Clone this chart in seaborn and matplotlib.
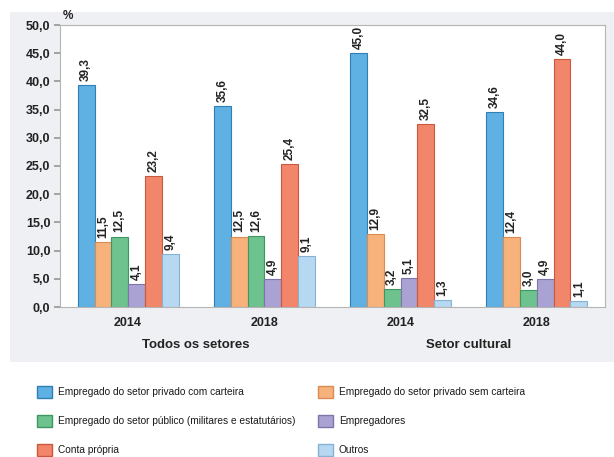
import matplotlib
matplotlib.use("Agg")
import matplotlib.pyplot as plt
import seaborn as sns
import pandas as pd
from matplotlib.patches import Rectangle, Patch

categories = [
    "Empregado do setor privado com carteira",
    "Empregado do setor privado sem carteira",
    "Empregado do setor público (militares e estatutários)",
    "Empregadores",
    "Conta própria",
    "Outros",
]
groups = ["Todos 2014", "Todos 2018", "Cultural 2014", "Cultural 2018"]
year_labels = ["2014", "2018", "2014", "2018"]
sector_labels = ["Todos os setores", "Setor cultural"]

values_todos_2014 = [39.3, 11.5, 12.5, 4.1, 23.2, 9.4]
values_todos_2018 = [35.6, 12.5, 12.6, 4.9, 25.4, 9.1]
values_cult_2014 = [45.0, 12.9, 3.2, 5.1, 32.5, 1.3]
values_cult_2018 = [34.6, 12.4, 3.0, 4.9, 44.0, 1.1]

colors = ["#5fb1e3", "#f7b27c", "#6dc28e", "#aaa2d3", "#f2866a", "#b6d8f1"]
edges = ["#2f7fb5", "#d98b55", "#3f9662", "#7e76aa", "#c9583d", "#86b2d3"]

rows = []
for g, vals in zip(groups, [values_todos_2014, values_todos_2018, values_cult_2014, values_cult_2018]):
    for c, v in zip(categories, vals):
        rows.append({"grupo": g, "categoria": c, "valor": v})
df = pd.DataFrame(rows)

sns.set_theme(style="white")
plt.rcParams["font.family"] = ["Liberation Sans", "DejaVu Sans"]

fig = plt.figure(figsize=(6.14, 4.57), dpi=100)
W, H = 614, 457
bg = Rectangle((10 / W, 1 - 362 / H), 604 / W, 350 / H,
               transform=fig.transFigure, facecolor="#eef0f3",
               edgecolor="none", zorder=-10)
fig.patches.append(bg)

ax = fig.add_axes([60 / W, 1 - 307 / H, 545 / W, 282 / H])
ax.set_zorder(1)
ax.set_facecolor("white")

sns.barplot(data=df, x="grupo", y="valor", hue="categoria", order=groups,
            hue_order=categories, palette=colors, width=0.74, saturation=1,
            ax=ax, legend=False)

for i, cont in enumerate(ax.containers):
    for bar in cont:
        bar.set_edgecolor(edges[i])
        bar.set_linewidth(0.8)
    labels = [f"{v:.1f}".replace(".", ",") for v in cont.datavalues]
    ax.bar_label(cont, labels=labels, rotation=90, padding=3, fontsize=8.5,
                 fontweight="bold", color="#222222")

ax.set_ylim(0, 50)
ax.set_yticks([0, 5, 10, 15, 20, 25, 30, 35, 40, 45, 50])
ax.set_yticklabels([f"{t:.1f}".replace(".", ",") for t in range(0, 51, 5)],
                   fontsize=9, fontweight="bold", color="#222222")
ax.set_xticks(range(4))
ax.set_xticklabels(year_labels, fontsize=9, fontweight="bold", color="#222222")
ax.set_xlabel("")
ax.set_ylabel("")
ax.tick_params(axis="y", direction="out", length=4, color="#999999", pad=3, left=True)
ax.tick_params(axis="x", length=0, pad=7)
for s in ax.spines.values():
    s.set_color("#b5b5b5")
    s.set_linewidth(0.8)

ax.text(0.005, 1.012, "%", transform=ax.transAxes, fontsize=8.5, fontweight="bold",
        ha="left", va="bottom", color="#222222")

for j, lab in enumerate(sector_labels):
    xc = 0.5 + 2 * j
    ax.text(xc, -0.135, lab, transform=ax.get_xaxis_transform(), ha="center",
            va="center", fontsize=9.5, fontweight="bold", color="#222222")

handles = [Patch(facecolor=colors[i], edgecolor=edges[i], label=categories[i]) for i in range(6)]
leg_kw = dict(frameon=False, fontsize=7.3, handlelength=1.5, handleheight=1.45,
              labelspacing=1.65, handletextpad=0.55, borderpad=0, borderaxespad=0,
              loc="upper left", labelcolor="#1a1a1a")
leg1 = fig.legend(handles=[handles[0], handles[2], handles[4]],
                  bbox_to_anchor=(37 / W, 1 - 386 / H), **leg_kw)
leg2 = fig.legend(handles=[handles[1], handles[3], handles[5]],
                  bbox_to_anchor=(318 / W, 1 - 386 / H), **leg_kw)

fig.savefig("out.png", dpi=100, facecolor="white")
